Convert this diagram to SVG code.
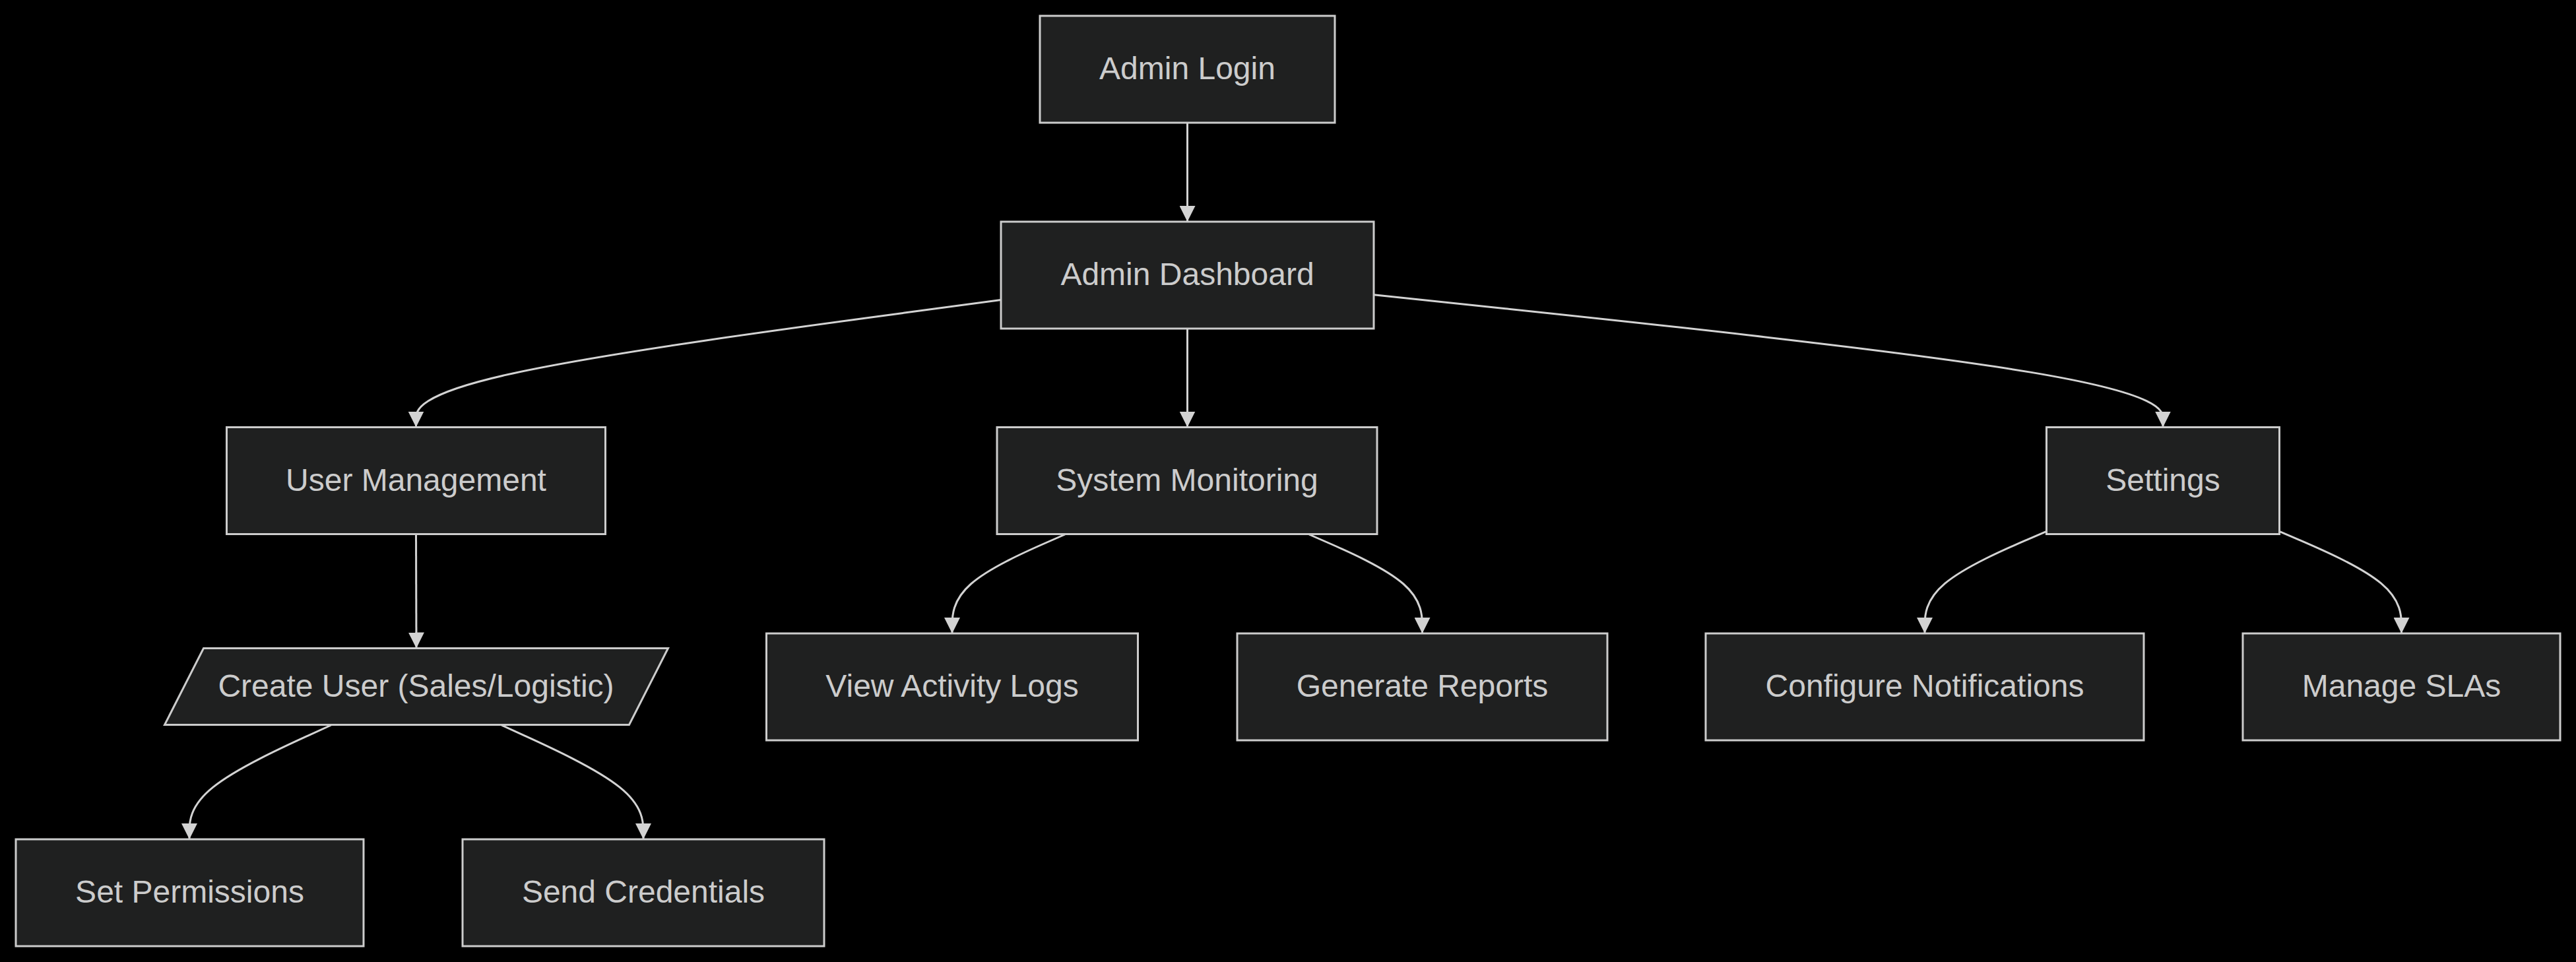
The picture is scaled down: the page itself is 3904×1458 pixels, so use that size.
<svg xmlns="http://www.w3.org/2000/svg" width="3904" height="1458" viewBox="0 0 3904 1458">
<style>
.node rect, .node polygon { fill: #1f2020; stroke: #cccccc; stroke-width: 3; }
.node text { font-family: "Liberation Sans", Arial, sans-serif; font-size: 48px; fill: #cccccc; text-anchor: middle; }
.edges path { fill: none; stroke: #d3d3d3; stroke-width: 3; }
</style>
<defs>
<marker id="arrow" viewBox="0 0 10 10" refX="10" refY="5" markerUnits="userSpaceOnUse" markerWidth="24" markerHeight="24" orient="auto">
<path d="M0,0 L10,5 L0,10 z" fill="#d3d3d3"/>
</marker>
</defs>
<rect x="0" y="0" width="3904" height="1458" fill="#000000"/>
<g class="edges">
<path id="e1" d="M1799.5,186 L1799.5,336" marker-end="url(#arrow)"/>
<path id="e2" d="M1517,454.6 L1369.25,474.33 C1221.5,494.07 926,533.53 778.25,565.68 C630.5,597.83 630.5,622.67 630.5,635.08 L630.5,647.5" marker-end="url(#arrow)"/>
<path id="e3" d="M1799.5,498 L1799.5,647.5" marker-end="url(#arrow)"/>
<path id="e4" d="M2082,446.7 L2281.33,467.75 C2480.67,488.8 2879.33,530.9 3078.67,564.37 C3278,597.83 3278,622.67 3278,635.08 L3278,647.5" marker-end="url(#arrow)"/>
<path id="e5" d="M630.5,810 L631,982.5" marker-end="url(#arrow)"/>
<path id="e6" d="M1614,810 L1585.5,822.5 C1557,835 1500,860 1471.5,885 C1443,910 1443,935 1443,947.5 L1443,960" marker-end="url(#arrow)"/>
<path id="e7" d="M1984,810 L2012.58,822.5 C2041.17,835 2098.33,860 2126.92,885 C2155.5,910 2155.5,935 2155.5,947.5 L2155.5,960" marker-end="url(#arrow)"/>
<path id="e8" d="M3101.5,805.3 L3070.75,818.58 C3040,831.87 2978.5,858.43 2947.75,884.22 C2917,910 2917,935 2917,947.5 L2917,960" marker-end="url(#arrow)"/>
<path id="e9" d="M3454.5,805.3 L3485.33,818.58 C3516.17,831.87 3577.83,858.43 3608.67,884.22 C3639.5,910 3639.5,935 3639.5,947.5 L3639.5,960" marker-end="url(#arrow)"/>
<path id="e10" d="M501.8,1099 L466,1115.33 C430.2,1131.67 358.6,1164.33 322.8,1193.17 C287,1222 287,1247 287,1259.5 L287,1272" marker-end="url(#arrow)"/>
<path id="e11" d="M760,1099 L795.83,1115.33 C831.67,1131.67 903.33,1164.33 939.17,1193.17 C975,1222 975,1247 975,1259.5 L975,1272" marker-end="url(#arrow)"/>
</g>
<g id="admin-login" class="node"><rect x="1576" y="24" width="447" height="162"/><text x="1799.5" y="120">Admin Login</text></g>
<g id="admin-dashboard" class="node"><rect x="1517" y="336" width="565" height="162"/><text x="1799.5" y="432">Admin Dashboard</text></g>
<g id="user-management" class="node"><rect x="343.5" y="647.5" width="574" height="162"/><text x="630.5" y="744">User Management</text></g>
<g id="system-monitoring" class="node"><rect x="1511" y="647.5" width="576" height="162"/><text x="1799" y="744">System Monitoring</text></g>
<g id="settings" class="node"><rect x="3101.5" y="647.5" width="353" height="162"/><text x="3278" y="744">Settings</text></g>
<g id="create-user" class="node"><polygon points="308.5,982.5 1012.5,982.5 953.5,1098.5 249.5,1098.5"/><text x="630.5" y="1056">Create User (Sales/Logistic)</text></g>
<g id="view-activity-logs" class="node"><rect x="1161.5" y="960" width="563" height="162"/><text x="1443" y="1056">View Activity Logs</text></g>
<g id="generate-reports" class="node"><rect x="1875" y="960" width="561" height="162"/><text x="2155.5" y="1056">Generate Reports</text></g>
<g id="configure-notifications" class="node"><rect x="2585" y="960" width="664" height="162"/><text x="2917" y="1056">Configure Notifications</text></g>
<g id="manage-slas" class="node"><rect x="3399" y="960" width="481" height="162"/><text x="3639.5" y="1056">Manage SLAs</text></g>
<g id="set-permissions" class="node"><rect x="24" y="1272" width="527" height="162"/><text x="287.5" y="1368">Set Permissions</text></g>
<g id="send-credentials" class="node"><rect x="701" y="1272" width="548" height="162"/><text x="975" y="1368">Send Credentials</text></g>
</svg>
